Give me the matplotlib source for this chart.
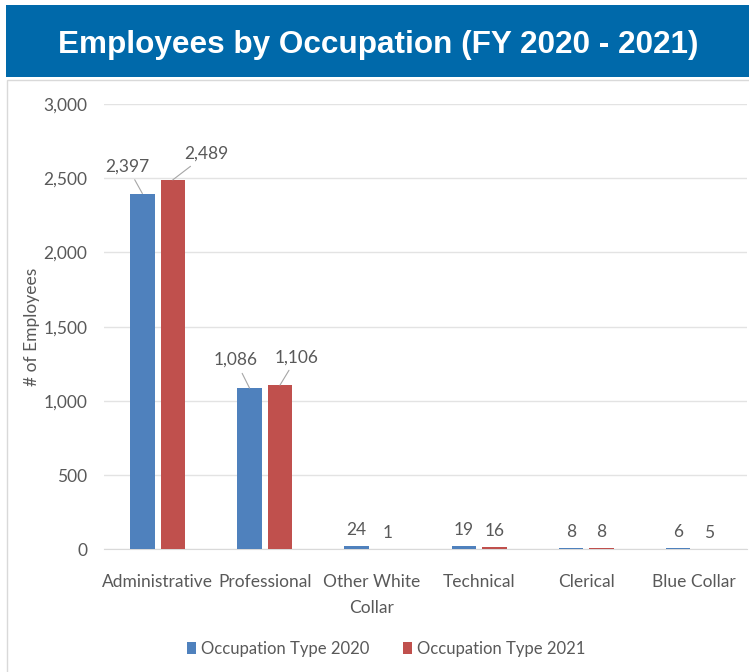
import matplotlib
matplotlib.use('Agg')
from matplotlib import pyplot as plt
from matplotlib.patches import Rectangle
import numpy as np

# data
categories = ['Administrative', 'Professional', 'Other White\nCollar', 'Technical', 'Clerical', 'Blue Collar']
emp_2020 = [2397, 1086, 24, 19, 8, 6]
emp_2021 = [2489, 1106, 1, 16, 8, 5]
series_names = ['Occupation Type 2020', 'Occupation Type 2021']
yticks = [0, 500, 1000, 1500, 2000, 2500, 3000]

plt.rcParams['font.family'] = ['Lato', 'DejaVu Sans']
grey_txt = '#595959'
c2020 = '#4F81BD'
c2021 = '#C0504D'
fs = 12.5

fig = plt.figure(figsize=(7.49, 6.72), dpi=100)

# title banner
fig.patches.append(Rectangle((6 / 749, 1 - 77 / 672), 1, 72 / 672, transform=fig.transFigure,
                             facecolor='#0069AA', edgecolor='none', zorder=0))
fig.text(378 / 749, 1 - 45 / 672, 'Employees by Occupation (FY 2020 - 2021)', color='white',
         fontsize=22.7, fontweight='bold', ha='center', va='center',
         family=['Liberation Sans', 'DejaVu Sans'])
# chart frame
fig.patches.append(Rectangle((7 / 749, -0.01), 1, 1 - 80 / 672 + 0.01, transform=fig.transFigure,
                             facecolor='none', edgecolor='#d9d9d9', lw=1, zorder=0))

ax = fig.add_axes([104 / 749, 1 - 549.3 / 672, 643 / 749, 445.3 / 672])
x = np.arange(len(categories))
w = 0.229
off = 0.142
b1 = ax.bar(x - off, emp_2020, w, color=c2020, label=series_names[0], zorder=3)
b2 = ax.bar(x + off, emp_2021, w, color=c2021, label=series_names[1], zorder=3)

ax.set_xlim(-0.5, len(categories) - 0.5)
ax.set_ylim(0, 3000)
ax.set_yticks(yticks)
ax.set_yticklabels([f'{v:,}' for v in yticks])
ax.set_xticks(x)
ax.set_xticklabels(categories, linespacing=1.75)
ax.tick_params(axis='y', length=0, pad=12, labelsize=fs, labelcolor=grey_txt)
ax.tick_params(axis='x', length=0, pad=18, labelsize=fs, labelcolor=grey_txt)
ax.grid(axis='y', color='#e3e3e3', lw=1, zorder=0)
for s in ['top', 'right', 'left']:
    ax.spines[s].set_visible(False)
ax.spines['bottom'].set_color('#d9d9d9')
ax.set_ylabel('# of Employees', fontsize=fs, color=grey_txt)
ax.yaxis.set_label_coords(-0.1, 0.5)

# data labels; the big ones sit off to the side with leader lines
lead = {(0, 0): (-15, 27), (0, 1): (34, 26), (1, 0): (-14, 28), (1, 1): (17, 28)}
for j, (bars, vals) in enumerate([(b1, emp_2020), (b2, emp_2021)]):
    for i, (bar, v) in enumerate(zip(bars, vals)):
        bx = bar.get_x() + bar.get_width() / 2
        if (i, j) in lead:
            ax.annotate(f'{v:,}', xy=(bx, v), xytext=lead[(i, j)], textcoords='offset pixels',
                        ha='center', va='center', fontsize=fs, color=grey_txt,
                        arrowprops=dict(arrowstyle='-', color='#a6a6a6', lw=0.8,
                                        shrinkA=2, shrinkB=0))
        else:
            ax.annotate(f'{v:,}', xy=(bx, v), xytext=(0, 8), textcoords='offset pixels',
                        ha='center', va='bottom', fontsize=fs, color=grey_txt)

leg = fig.legend(loc='center', bbox_to_anchor=(386 / 749, 1 - 649 / 672), ncol=2, frameon=False,
                 fontsize=12, handlelength=0.55, handleheight=0.75, handletextpad=0.3,
                 columnspacing=2.0)
for t in leg.get_texts():
    t.set_color(grey_txt)

plt.savefig('out.png', dpi=100)
